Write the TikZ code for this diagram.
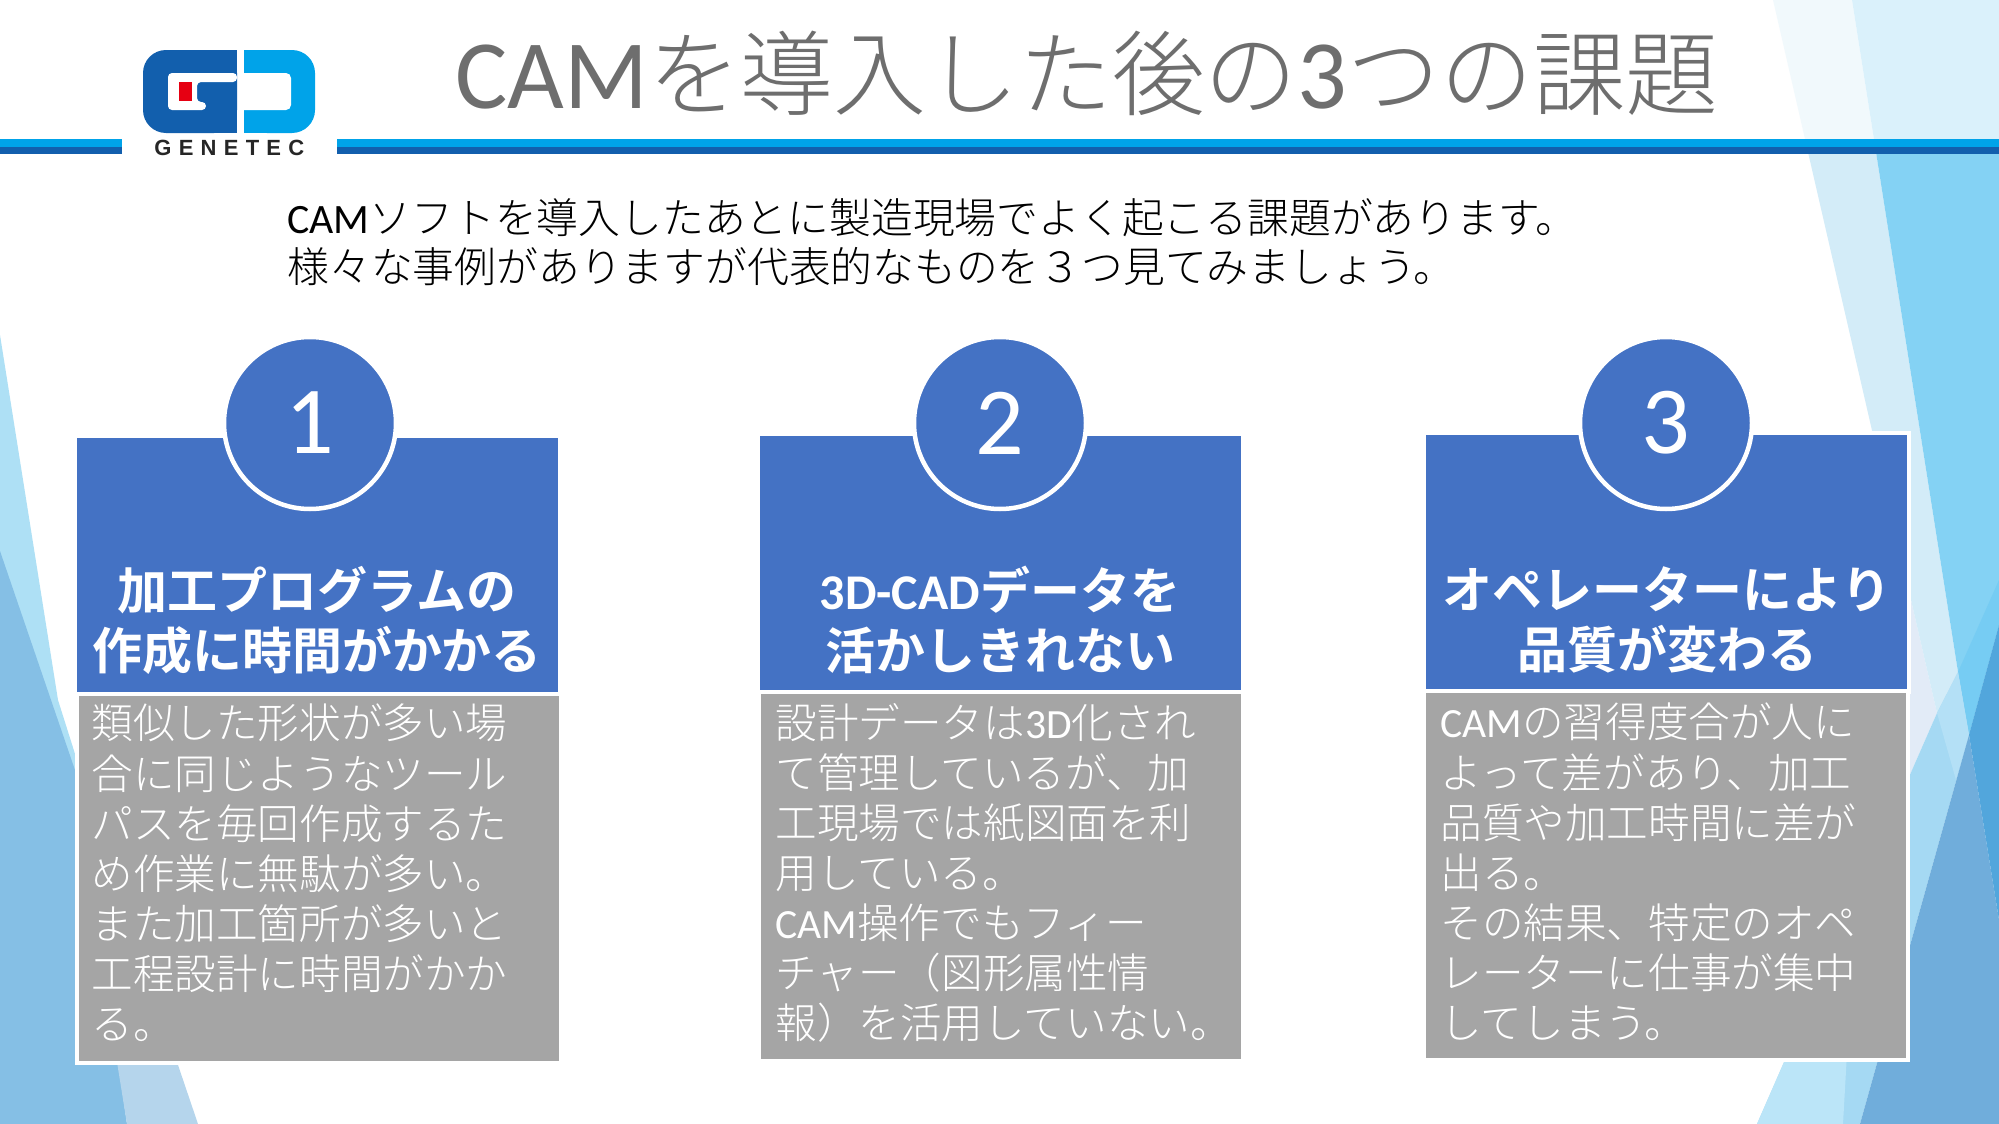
\documentclass[tikz,border=0pt]{standalone}
\usepackage{fontspec}
\setmainfont{Noto Sans CJK JP Light}[BoldFont={Noto Sans CJK JP Bold}]
\newfontfamily\latfont{Carlito}
\newfontfamily\logofont[LetterSpace=33]{Liberation Sans}
\newcommand{\lat}[1]{{\latfont #1}}
\newcommand{\tlat}[1]{{\latfont\fontsize{49}{50}\selectfont #1}}
\definecolor{headblue}{HTML}{4472C4}
\definecolor{bodygray}{HTML}{A5A5A5}
\definecolor{titlegray}{HTML}{6E6E6E}
\definecolor{logoblue}{HTML}{125FAD}
\definecolor{logocyan}{HTML}{00A3E9}
\definecolor{logored}{HTML}{E60012}
\definecolor{palesky}{HTML}{D3ECF8}
\definecolor{satsky}{HTML}{84D2F4}
\definecolor{satlow}{HTML}{76CCF3}
\definecolor{bandsky}{HTML}{A5D9F3}
\definecolor{bandpale}{HTML}{B4E0F6}
\definecolor{lowsky}{HTML}{BBE5F8}
\definecolor{lavsky}{HTML}{E2EBF7}
\definecolor{midblue}{HTML}{70ADDB}
\definecolor{darkblue}{HTML}{52A6DC}
\definecolor{leftsky}{HTML}{AEE0F5}
\definecolor{leftblue}{HTML}{85BFE5}
\definecolor{leftpale}{HTML}{B5D5EC}
\tikzset{
  headbox/.style={fill=headblue, minimum width=240.5pt, minimum height=127pt, anchor=north west, inner sep=0pt, outer sep=0pt},
  bodybox/.style={fill=bodygray, draw=white, line width=2pt, minimum width=242pt, minimum height=184.25pt, anchor=north west, inner sep=0pt, outer sep=0pt},
  bodytext/.style={anchor=west, inner sep=0pt, text=white, align=left, font=\fontsize{20.8}{25.05}\selectfont},
  numcircle/.style={circle, fill=headblue, draw=white, line width=2.25pt, minimum size=86pt, inner sep=0pt, text=white, font=\latfont\fontsize{48}{50}\selectfont},
  headtext/.style={text=white, align=center, inner sep=0pt, font=\bfseries\fontsize{25}{30}\selectfont}
}
\begin{document}
\begin{tikzpicture}[x=0.5pt,y=-0.5pt]
\useasboundingbox (0,0) rectangle (1999,1124);
\fill[white] (0,0) rectangle (1999,1124);
\fill[lavsky] (1888,500) -- (1937,713) -- (1888,825) -- cycle;
\fill[palesky] (1773,0) -- (1852,0) -- (1958,672) -- (1937,713) -- cycle;
\fill[satsky] (1852,0) -- (1999,0) -- (1999,625) -- (1969,735) -- (1958,672) -- cycle;
\fill[satlow] (1999,580) -- (1958,672) -- (1969,735) -- (1999,625) -- cycle;
\fill[bandsky] (1937,713) -- (1757,1124) -- (1860,1124) -- (1969,735) -- (1958,672) -- cycle;
\fill[bandpale] (1937,713) -- (1958,672) -- (1969,735) -- (1956,780) -- cycle;
\fill[lowsky] (1757,1124) -- (1843,1124) -- (1850,1000) -- (1811,1000) -- cycle;
\fill[midblue] (1969,735) -- (1860,1124) -- (1999,1124) -- (1999,920) -- cycle;
\fill[darkblue] (1999,625) -- (1969,735) -- (1999,920) -- cycle;
\fill[white, opacity=0.7] (1700,0) rectangle (1999,154);
\fill[leftsky] (0,335) -- (58,700) -- (76,757) -- (76,900) -- (0,900) -- cycle;
\fill[leftblue] (0,551) -- (76,773) -- (127,1124) -- (0,1124) -- cycle;
\fill[leftpale] (107,1000) -- (156,1000) -- (198,1124) -- (127,1124) -- cycle;
\fill[logocyan] (0,139) rectangle (122,147);
\fill[logoblue] (0,147) rectangle (122,154);
\fill[logocyan] (337,139) rectangle (1999,147);
\fill[logoblue] (337,147) rectangle (1999,154);
\fill[logoblue, rounded corners=11.5pt] (143,50) rectangle (237,133);
\fill[logoblue] (200,50) rectangle (237,133);
\fill[white, rounded corners=2pt] (237,73) -- (168,73) -- (168,110) -- (206,110) -- (206,102) -- (197,102) -- (197,82) -- (237,82) -- cycle;
\fill[logored] (179,82) rectangle (192,101);
\fill[logocyan, rounded corners=11.5pt] (244,50) rectangle (315,133);
\fill[logocyan] (244,50) rectangle (280,133);
\fill[white, rounded corners=2.5pt] (238,73) rectangle (291,110);
\fill[white] (238,73) rectangle (250,110);
\node[anchor=base west, inner sep=0pt, text=black!85] (logotext) at (154,155) {\logofont\bfseries\fontsize{11}{12}\selectfont GENETEC};
\node[anchor=base west, inner sep=0pt, text=titlegray] (title) at (455,108) {\fontsize{46.4}{50}\selectfont\tlat{CAM}を導入した後の\tlat{3}つの課題};
\node[anchor=north west, inner sep=0pt, align=left, text=black, font=\fontsize{20.9}{24.5}\selectfont] (intro) at (287,198) {\lat{CAM}ソフトを導入したあとに製造現場でよく起こる課題があります。\\様々な事例がありますが代表的なものを３つ見てみましょう。};
\node[headbox] (heada) at (77,438) {};
\node[headbox] (headb) at (760,436) {};
\node[headbox, draw=white, line width=2pt, minimum width=242.5pt, minimum height=129.5pt] (headc) at (1424,433) {};
\node[numcircle] (numa) at (310,423) {1};
\node[numcircle] (numb) at (1000,423) {2};
\node[numcircle] (numc) at (1666,423) {3};
\node[headtext] (texta) at (317,620) {加工プログラムの\\作成に時間がかかる};
\node[headtext] (textb) at (1000,620) {{\latfont\bfseries 3D-CAD}データを\\活かしきれない};
\node[headtext] (textc) at (1667,620) {オペレーターにより\\品質が変わる};
\node[bodybox] (bodya) at (76.5,694) {};
\node[bodybox] (bodyb) at (759,692) {};
\node[bodybox] (bodyc) at (1424,691) {};
\node[bodytext] (bodytexta) at (91,873) {類似した形状が多い場\\合に同じようなツール\\パスを毎回作成するた\\め作業に無駄が多い。\\また加工箇所が多いと\\工程設計に時間がかか\\る。};
\node[bodytext] (bodytextb) at (775,873) {設計データは\lat{3D}化され\\て管理しているが、加\\工現場では紙図面を利\\用している。\\\lat{CAM}操作でもフィー\\チャー（図形属性情\\報）を活用していない。};
\node[bodytext] (bodytextc) at (1440,872) {\lat{CAM}の習得度合が人に\\よって差があり、加工\\品質や加工時間に差が\\出る。\\その結果、特定のオペ\\レーターに仕事が集中\\してしまう。};
\end{tikzpicture}
\end{document}
